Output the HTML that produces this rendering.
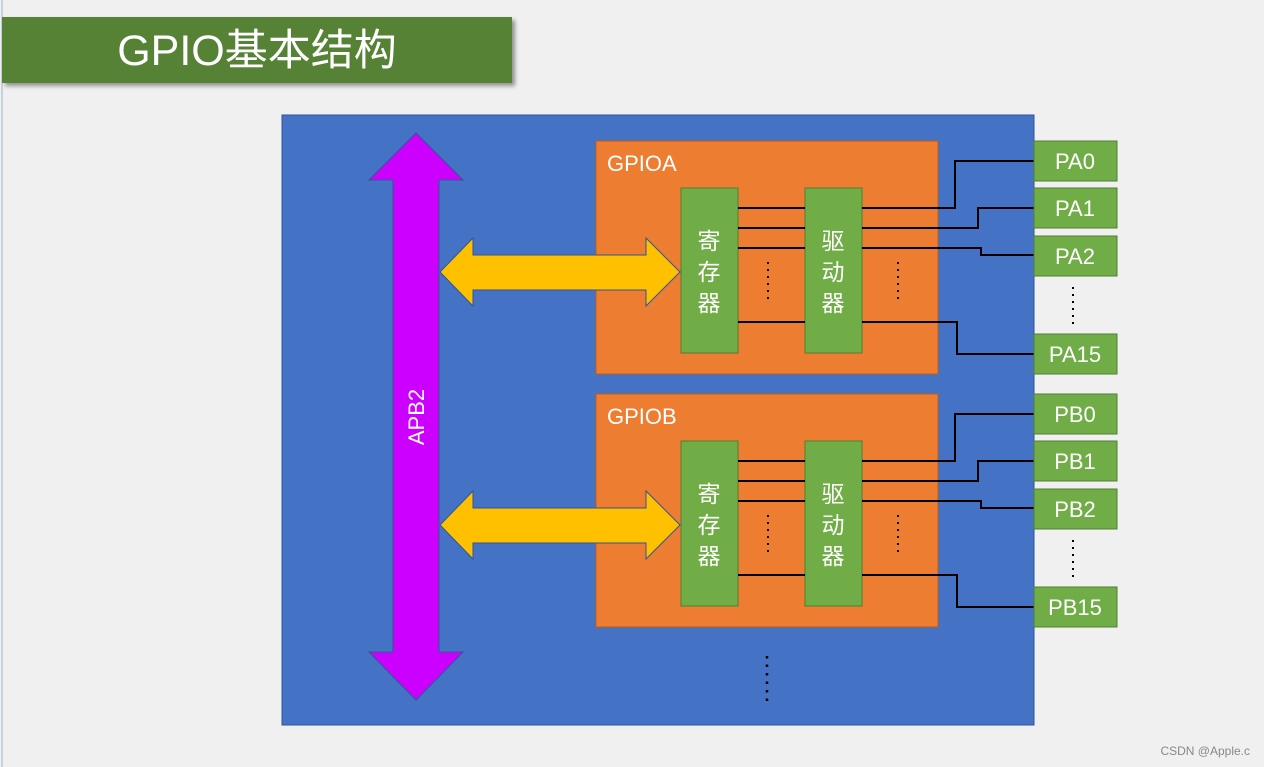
<!DOCTYPE html>
<html><head><meta charset="utf-8"><style>
html,body{margin:0;padding:0;background:#f0f0f0;}
svg{display:block;}
text{font-family:"Liberation Sans","Noto Sans CJK SC",sans-serif;fill:#fff;}
</style></head><body>
<svg width="1264" height="767" viewBox="0 0 1264 767" xmlns="http://www.w3.org/2000/svg">
<defs>
<filter id="sh" x="-5%" y="-20%" width="110%" height="150%"><feDropShadow dx="3" dy="3" stdDeviation="2" flood-color="#000" flood-opacity="0.4"/></filter>
<g id="grp">
  <rect x="596" y="141" width="342" height="233" fill="#ED7D31" stroke="#C55A11" stroke-width="1"/>
  <rect x="681" y="188" width="57" height="165" fill="#70AD47" stroke="#507E32" stroke-width="1"/>
  <rect x="805" y="188" width="57" height="165" fill="#70AD47" stroke="#507E32" stroke-width="1"/>
  <g stroke="#000" stroke-width="2" fill="none">
    <line x1="738" y1="208" x2="805" y2="208"/>
    <line x1="738" y1="228" x2="805" y2="228"/>
    <line x1="738" y1="248" x2="805" y2="248"/>
    <line x1="738" y1="322" x2="805" y2="322"/>
    <polyline points="862,208 955,208 955,161 1034,161"/>
    <polyline points="862,228 978,228 978,208 1034,208"/>
    <polyline points="862,248 981,248 981,255 1034,255"/>
    <polyline points="862,322 957,322 957,354 1034,354"/>
  </g>
  <g stroke="#000" stroke-width="2" stroke-dasharray="2,5" fill="none">
    <line x1="768" y1="262" x2="768" y2="300"/>
    <line x1="898" y1="262" x2="898" y2="300"/>
  </g>
  <path d="M440,272 L473,238 L473,255 L646,255 L646,238 L680,272 L646,306 L646,290 L473,290 L473,306 Z" fill="#FFC000" stroke="#2F5597" stroke-width="1"/>
  <text x="709" y="249" font-size="23" text-anchor="middle">寄</text>
  <text x="709" y="280" font-size="23" text-anchor="middle">存</text>
  <text x="709" y="311" font-size="23" text-anchor="middle">器</text>
  <text x="833" y="249" font-size="23" text-anchor="middle">驱</text>
  <text x="833" y="280" font-size="23" text-anchor="middle">动</text>
  <text x="833" y="311" font-size="23" text-anchor="middle">器</text>
  <rect x="1034" y="141" width="83" height="40" fill="#70AD47" stroke="#507E32"/>
  <rect x="1034" y="188" width="83" height="40" fill="#70AD47" stroke="#507E32"/>
  <rect x="1034" y="236" width="83" height="40" fill="#70AD47" stroke="#507E32"/>
  <rect x="1034" y="334" width="83" height="40" fill="#70AD47" stroke="#507E32"/>
  <line x1="1073" y1="287" x2="1073" y2="325" stroke="#000" stroke-width="2" stroke-dasharray="2,5"/>
</g>
</defs>
<line x1="2" y1="0" x2="2" y2="767" stroke="#c5d3dc" stroke-width="2"/>
<rect x="2" y="17" width="510" height="66" fill="#548235" filter="url(#sh)"/>
<text x="257" y="65" font-size="43" text-anchor="middle">GPIO基本结构</text>

<rect x="282" y="115" width="752" height="610" fill="#4472C4" stroke="#2F5597" stroke-width="1"/>
<use href="#grp"/>
<use href="#grp" transform="translate(0,253)"/>
<text x="607" y="171" font-size="22">GPIOA</text>
<text x="607" y="424" font-size="22">GPIOB</text>
<g font-size="22" text-anchor="middle">
<text x="1075" y="169">PA0</text><text x="1075" y="216">PA1</text><text x="1075" y="264">PA2</text><text x="1075" y="362">PA15</text>
<text x="1075" y="422">PB0</text><text x="1075" y="469">PB1</text><text x="1075" y="517">PB2</text><text x="1075" y="615">PB15</text>
</g>
<path d="M416,133 L463,180 L439,180 L439,652 L463,652 L416,700 L369,652 L393,652 L393,180 L369,180 Z" fill="#CC00FF" stroke="#2F5597" stroke-width="1"/>
<text x="0" y="0" font-size="22" text-anchor="middle" transform="translate(424,417) rotate(-90)">APB2</text>
<line x1="767" y1="656" x2="767" y2="702" stroke="#000" stroke-width="2.5" stroke-dasharray="2.5,6"/>
<text x="1250" y="755" font-size="12" text-anchor="end" style="fill:#888">CSDN @Apple.c</text>
</svg>
</body></html>
